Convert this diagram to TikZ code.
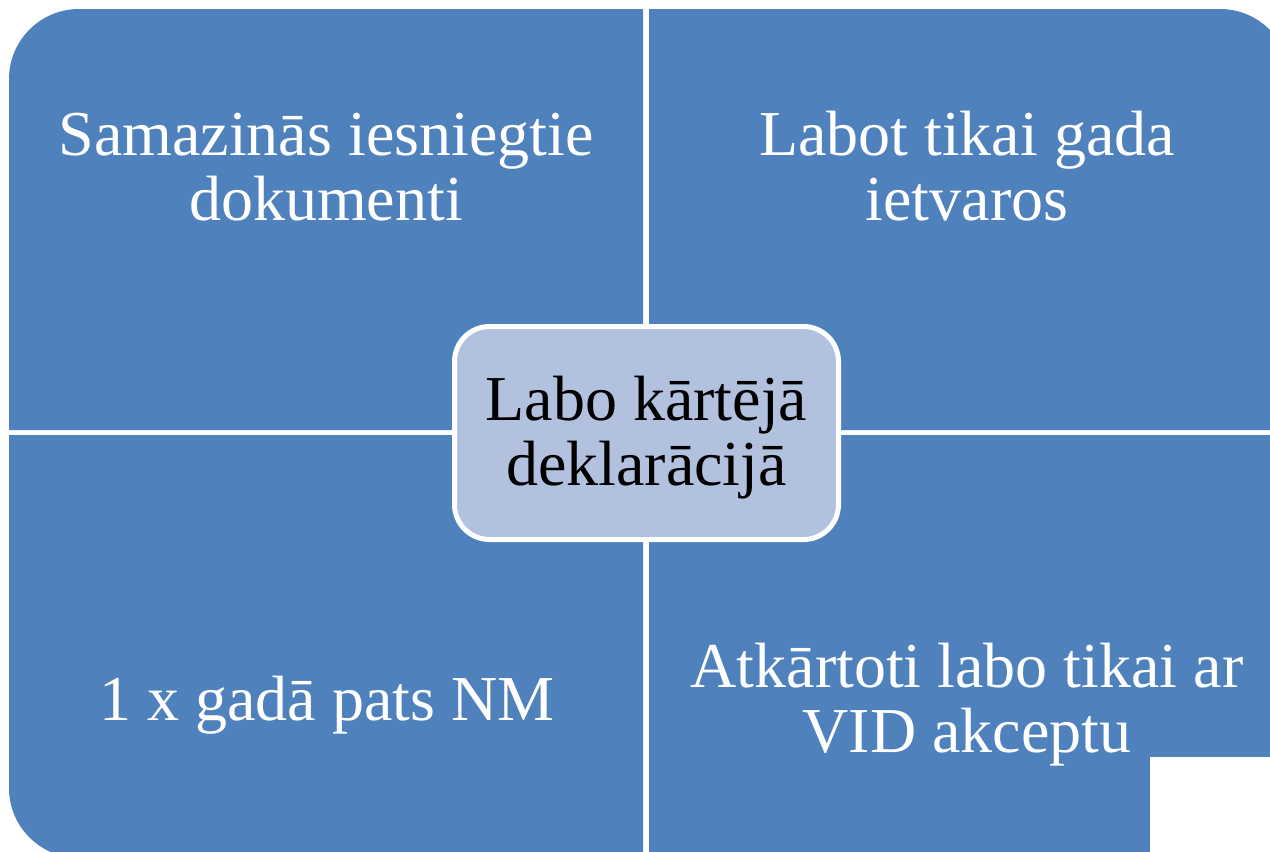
\documentclass[tikz,border=0pt]{standalone}
\usepackage{fontspec}
\setmainfont{Liberation Serif}
\definecolor{quadblue}{RGB}{79,129,189}
\definecolor{centerblue}{RGB}{178,193,221}
\begin{document}
\begin{tikzpicture}[x=1pt,y=-1pt,
  quad/.style={fill=quadblue,draw=none},
  quadtext/.style={text=white,align=center,anchor=base,inner sep=0pt,font=\fontsize{64}{65}\selectfont},
  centerbox/.style={fill=centerblue,draw=white,line width=5pt,rounded corners=35pt,minimum width=384pt,minimum height=213pt,inner sep=0pt},
  centertext/.style={text=black,align=center,anchor=base,inner sep=0pt,font=\fontsize{64}{65}\selectfont}]
\useasboundingbox (0,0) rectangle (1270,852);
% quadrants
\fill[quad] (9,430) -- (9,79) arc[start angle=180,end angle=270,radius=70] -- (643,9) -- (643,430) -- cycle;
\fill[quad] (649,9) -- (1220,9) arc[start angle=270,end angle=360,radius=70] -- (1290,430) -- (649,430) -- cycle;
\fill[quad] (9,435) -- (643,435) -- (643,858) -- (79,858) arc[start angle=90,end angle=180,radius=70] -- cycle;
\fill[quad] (649,435) -- (1290,435) -- (1290,788) arc[start angle=0,end angle=90,radius=70] -- (649,858) -- cycle;
% texts
\node[quadtext] (tl) at (326,220) {Samazinās iesniegtie\\dokumenti};
\node[quadtext] (tr) at (967,220) {Labot tikai gada\\ietvaros};
\node[quadtext] (bl) at (327,720) {1 x gadā pats NM};
\node[quadtext] (br) at (967,752) {Atkārtoti labo tikai ar\\VID akceptu};
% center
\node[centerbox] (c) at (646.5,433) {};
\node[centertext] (ct) at (646.5,485) {Labo kārtējā\\deklarācijā};
% watermark patch
\fill[white] (1150,757) rectangle (1275,860);
\end{tikzpicture}
\end{document}
